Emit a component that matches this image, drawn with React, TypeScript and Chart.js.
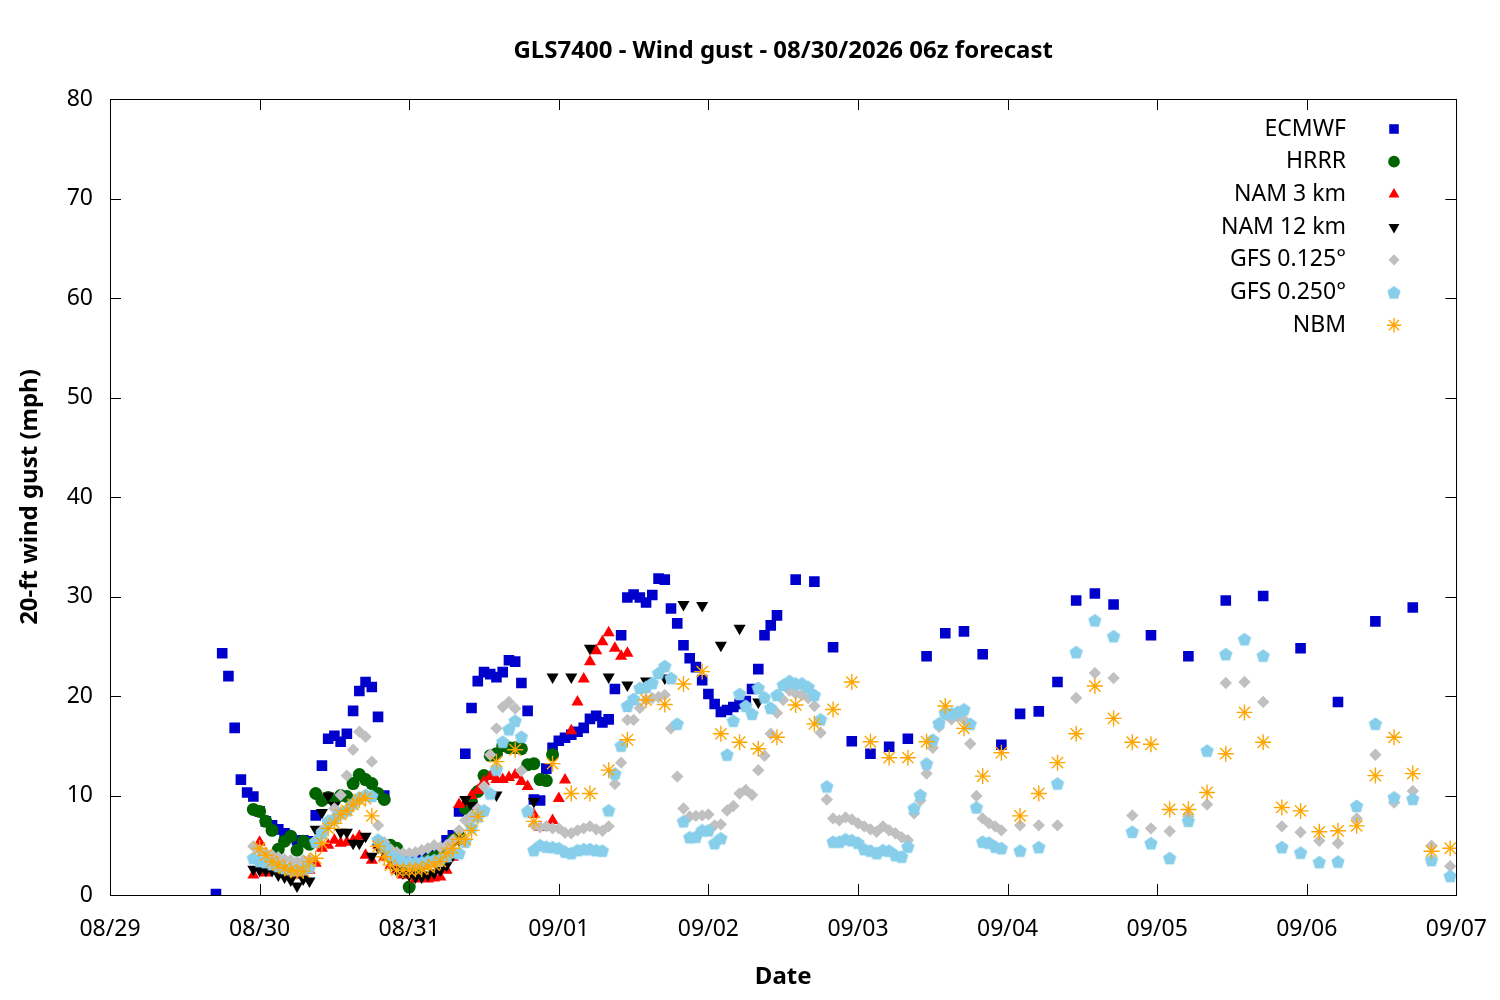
import React, { useEffect, useRef } from 'react';
import { Chart, registerables } from 'chart.js';
import { drawPoint } from 'chart.js/helpers';

Chart.register(...registerables);

const FONT = '"Noto Sans", "Open Sans", sans-serif';
const chartTitle = 'GLS7400 - Wind gust - 08/30/2026 06z forecast';
const xTitle = 'Date';
const yTitle = '20-ft wind gust (mph)';
const dateLabels = ['08/29', '08/30', '08/31', '09/01', '09/02', '09/03', '09/04', '09/05', '09/06', '09/07'];
const seriesNames = ['ECMWF', 'HRRR', 'NAM 3 km', 'NAM 12 km', 'GFS 0.125°', 'GFS 0.250°', 'NBM'];

// valid-time hours since 08/29 00:00, as [first, last, step] segments
function hourSeq(...segs: [number, number, number][]): number[] {
  const out: number[] = [];
  for (const [a, b, s] of segs) for (let h = a; h <= b; h += s) out.push(h);
  return out;
}

const ecmwfHours = hourSeq([17, 107, 1], [110, 161, 3], [167, 209, 6]);
const ecmwfValues = [
  0.1, 24.3, 22.0, 16.8, 11.6, 10.3, 9.9, 8.4, 7.4, 7.0,
  6.6, 6.2, 5.8, 5.5, 5.5, 5.4, 8.0, 13.0, 15.7, 16.0,
  15.4, 16.2, 18.5, 20.5, 21.4, 20.9, 17.9, 10.0, 4.5, 3.8,
  3.5, 3.3, 3.3, 3.6, 4.0, 4.2, 4.5, 5.5, 6.0, 8.4,
  14.2, 18.8, 21.5, 22.4, 22.2, 21.9, 22.4, 23.6, 23.45, 21.3,
  18.5, 9.6, 9.5, 12.7, 14.8, 15.5, 15.8, 16.1, 16.4, 16.8,
  17.7, 18.0, 17.35, 17.65, 20.7, 26.1, 29.9, 30.2, 29.9, 29.4,
  30.15, 31.8, 31.7, 28.8, 27.3, 25.1, 23.8, 22.9, 21.6, 20.2,
  19.2, 18.4, 18.6, 18.9, 19.2, 19.5, 20.7, 22.7, 26.1, 27.1,
  28.1,
  31.7, 31.5, 24.9, 15.45, 14.2, 14.9, 15.7, 24.0, 26.3, 26.5,
  24.2, 15.1, 18.2, 18.45, 21.4, 29.6, 30.3, 29.2,
  26.1, 24.0, 29.6, 30.05, 24.8, 19.4, 27.5, 28.9,
];

const hrrrHours = hourSeq([23, 71, 1]);
const hrrrValues = [
  8.6, 8.4, 7.4, 6.5, 4.6, 5.4, 5.9, 4.5, 5.4, 5.1,
  10.2, 9.5, 9.8, 9.5, 10.0, 9.9, 11.2, 12.1, 11.6, 11.2,
  10.2, 9.6, 5.0, 4.7, 3.0, 0.8, 2.5, 3.0, 3.5, 3.8,
  4.0, 4.3, 5.5, 5.9, 8.7, 9.3, 10.4, 12.0, 14.0, 14.2,
  15.0, 14.8, 14.8, 14.7, 13.1, 13.2, 11.6, 11.5, 14.1,
];

const nam3Hours = hourSeq([23, 83, 1]);
const nam3Values = [
  2.0, 5.3, 2.2, 2.8, 2.5, 2.3, 2.3, 2.0, 2.0, 2.5,
  3.2, 4.7, 5.0, 5.5, 5.2, 5.3, 5.5, 5.9, 4.0, 3.5,
  5.0, 3.8, 3.0, 2.5, 2.0, 2.0, 1.6, 1.8, 1.6, 1.7,
  1.8, 2.5, 3.8, 9.1, 9.3, 10.0, 10.5, 11.4, 11.9, 11.6,
  11.6, 11.8, 12.05, 11.4, 10.9, 8.1, 6.8, 6.8, 7.5, 9.7,
  11.55, 16.5, 19.4, 21.7, 23.45, 24.55, 25.45, 26.35, 24.8, 24.0, 24.3,
];

const nam12Hours = hourSeq([23, 58, 1], [62, 62, 1], [68, 68, 1], [71, 104, 3]);
const nam12Values = [
  2.6, 2.5, 2.5, 2.45, 2.0, 1.8, 1.5, 0.9, 1.6, 1.4,
  6.6, 8.3, 9.95, 9.0, 6.3, 6.3, 5.2, 5.2, 5.9, 3.9,
  4.8, 4.2, 3.5, 2.5, 2.2, 2.0, 1.8, 1.8, 2.0, 2.2,
  2.5, 3.0, 4.0, 5.5, 9.6, 9.0,
  10.05, 9.4,
  21.9, 21.9, 24.8, 21.9, 21.1, 21.5, 21.8, 29.2, 29.1, 25.1, 26.8, 19.4,
];

const gfs125Hours = hourSeq([23, 143, 1], [146, 215, 3]);
const gfs125Values = [
  4.9, 4.5, 4.2, 4.0, 3.8, 3.6, 3.5, 3.3, 3.5, 3.6,
  5.5, 6.5, 7.5, 8.7, 10.05, 12.0, 14.6, 16.4, 15.9, 13.4,
  7.0, 5.3, 4.6, 4.3, 4.2, 4.2, 4.3, 4.5, 4.7, 5.0,
  4.8, 5.0, 5.5, 6.5, 7.5, 8.0, 8.7, 10.9, 14.1, 16.75,
  18.9, 19.4, 18.75, 12.5, 8.5, 7.0, 6.8, 6.9, 6.7, 6.7,
  6.25, 6.2, 6.5, 6.7, 6.9, 6.6, 6.45, 6.9, 11.15, 13.3,
  17.6, 17.6, 18.8, 19.6, 19.8, 19.9, 20.1, 16.75, 11.9, 8.7,
  7.9, 7.95, 8.0, 8.1, 7.0, 7.1, 8.5, 8.95, 10.2, 10.55,
  10.05, 12.55, 14.0, 16.2, 18.3, 19.6, 20.55, 20.25, 20.1, 19.8,
  19.0, 16.3, 9.6, 7.7, 7.5, 7.8, 7.6, 7.2, 6.9, 6.6,
  6.35, 6.9, 6.5, 6.2, 5.8, 5.5, 8.2, 9.5, 12.2, 14.8,
  16.9, 18.1, 17.65, 17.9, 17.6, 15.2, 9.95, 7.7, 7.2, 6.9,
  6.5,
  7.0, 7.0, 7.0, 19.8, 22.3, 21.8, 8.0, 6.7, 6.4, 7.9,
  9.1, 21.3, 21.4, 19.4, 6.9, 6.3, 5.45, 5.2, 7.7, 14.1,
  9.3, 10.45, 4.95, 2.9,
];

const gfs250Hours = hourSeq([23, 143, 1], [146, 215, 3]);
const gfs250Values = [
  3.7, 3.4, 3.3, 3.1, 2.9, 2.7, 2.6, 2.5, 2.6, 2.8,
  5.35, 6.2, 7.4, 7.7, 8.2, 8.5, 9.2, 9.8, 10.05, 9.95,
  5.55, 4.85, 4.0, 3.6, 3.4, 3.3, 3.3, 3.3, 3.4, 3.5,
  3.6, 3.9, 4.3, 4.2, 5.35, 6.8, 7.9, 8.5, 10.2, 12.6,
  15.4, 16.65, 17.5, 15.9, 8.4, 4.5, 5.0, 4.85, 4.8, 4.7,
  4.35, 4.2, 4.5, 4.6, 4.6, 4.5, 4.45, 8.5, 12.2, 15.0,
  19.0, 19.7, 20.8, 20.9, 21.3, 22.3, 23.0, 21.8, 17.2, 7.4,
  5.8, 5.85, 6.5, 6.5, 5.2, 5.7, 14.1, 17.5, 20.2, 19.0,
  18.2, 20.8, 19.85, 18.8, 20.1, 21.1, 21.5, 21.25, 21.25, 20.9,
  20.1, 17.65, 10.9, 5.35, 5.35, 5.6, 5.5, 5.25, 4.6, 4.45,
  4.2, 4.5, 4.45, 4.0, 3.85, 4.85, 8.7, 10.05, 13.2, 15.6,
  17.25, 18.25, 18.25, 18.4, 18.65, 17.2, 8.8, 5.35, 5.25, 4.85,
  4.7,
  4.45, 4.8, 11.2, 24.4, 27.6, 26.0, 6.35, 5.2, 3.7, 7.45,
  14.5, 24.2, 25.7, 24.05, 4.8, 4.25, 3.3, 3.35, 8.95, 17.2,
  9.8, 9.65, 3.5, 1.9,
];

const nbmHours = hourSeq([24, 59, 1], [62, 215, 3]);
const nbmValues = [
  4.7, 4.0, 3.35, 3.0, 2.7, 2.5, 2.35, 2.4, 3.35, 3.7,
  5.2, 6.7, 7.2, 8.1, 8.5, 9.1, 9.55, 9.7, 7.95, 4.9,
  3.85, 3.0, 2.5, 2.5, 2.5, 2.6, 2.6, 2.85, 3.0, 3.35,
  4.2, 4.7, 5.6, 5.6, 6.5, 7.9,
  13.4, 14.6, 7.4, 13.2, 10.2, 10.2, 12.55, 15.6, 19.6, 19.15,
  21.2, 22.45, 16.2, 15.35, 14.7, 15.85, 19.1, 17.2, 18.65, 21.4,
  15.4, 13.8, 13.8, 15.4, 19.0, 16.75, 11.95, 14.3, 7.95, 10.2,
  13.3, 16.2, 21.0, 17.75, 15.35, 15.15, 8.6, 8.6, 10.3, 14.2,
  18.35, 15.35, 8.8, 8.45, 6.35, 6.45, 6.95, 12.0, 15.85, 12.2,
  4.4, 4.7,
];

const seriesHours = [ecmwfHours, hrrrHours, nam3Hours, nam12Hours, gfs125Hours, gfs250Hours, nbmHours];
const seriesValues = [ecmwfValues, hrrrValues, nam3Values, nam12Values, gfs125Values, gfs250Values, nbmValues];
const seriesColors = ['#0000cc', '#006400', '#ff0000', '#000000', '#c0c0c0', '#87ceeb', '#ffa500'];

function makePentagon(color: string, r: number): HTMLCanvasElement {
  const c = document.createElement('canvas');
  const s = Math.ceil(r * 2) + 2;
  c.width = s;
  c.height = s;
  const ctx = c.getContext('2d')!;
  ctx.fillStyle = color;
  ctx.beginPath();
  for (let i = 0; i < 5; i++) {
    const a = -Math.PI / 2 + (i * 2 * Math.PI) / 5;
    const x = s / 2 + r * Math.cos(a);
    const y = s / 2 + 0.5 + r * Math.sin(a);
    if (i === 0) ctx.moveTo(x, y);
    else ctx.lineTo(x, y);
  }
  ctx.closePath();
  ctx.fill();
  return c;
}

export default function App() {
  const ref = useRef<HTMLCanvasElement | null>(null);

  useEffect(() => {
    document.body.style.margin = '0';
    const canvas = ref.current;
    if (!canvas) return;

    const markers: any[] = [
      { pointStyle: 'rect', radius: 7.5, rotation: 0, borderWidth: 0 },
      { pointStyle: 'circle', radius: 6.5, rotation: 0, borderWidth: 0 },
      { pointStyle: 'triangle', radius: 7, rotation: 0, borderWidth: 0 },
      { pointStyle: 'triangle', radius: 7, rotation: 180, borderWidth: 0 },
      { pointStyle: 'rectRot', radius: 6.2, rotation: 0, borderWidth: 0 },
      { pointStyle: makePentagon(seriesColors[5], 7), radius: 7, rotation: 0, borderWidth: 0 },
      { pointStyle: 'star', radius: 8, rotation: 0, borderWidth: 1.4 },
    ];

    const datasets = seriesNames.map((name, i) => ({
      label: name,
      data: seriesHours[i].map((h, k) => ({ x: h, y: seriesValues[i][k] })),
      pointStyle: markers[i].pointStyle,
      pointRadius: markers[i].radius,
      pointRotation: markers[i].rotation,
      pointBorderWidth: markers[i].borderWidth,
      backgroundColor: seriesColors[i],
      borderColor: seriesColors[i],
      showLine: false,
      order: seriesNames.length - i,
    }));

    const decor = {
      id: 'decor',
      afterDraw(chart: any) {
        const { ctx, chartArea: a, scales } = chart;
        ctx.save();
        ctx.strokeStyle = '#000';
        ctx.lineWidth = 1;
        ctx.strokeRect(Math.round(a.left) + 0.5, Math.round(a.top) + 0.5, Math.round(a.right - a.left), Math.round(a.bottom - a.top));
        const tl = 11;
        ctx.beginPath();
        for (let v = 0; v <= 80; v += 10) {
          const y = Math.round(scales.y.getPixelForValue(v)) + 0.5;
          ctx.moveTo(a.left, y); ctx.lineTo(a.left + tl, y);
          ctx.moveTo(a.right, y); ctx.lineTo(a.right - tl, y);
        }
        for (let i = 0; i < dateLabels.length; i++) {
          const x = Math.round(scales.x.getPixelForValue(i * 24)) + 0.5;
          ctx.moveTo(x, a.bottom); ctx.lineTo(x, a.bottom - tl);
          ctx.moveTo(x, a.top); ctx.lineTo(x, a.top + tl);
        }
        ctx.stroke();

        ctx.fillStyle = '#000';
        ctx.textBaseline = 'middle';
        ctx.textAlign = 'center';
        ctx.font = `bold 24px ${FONT}`;
        const cx = (a.left + a.right) / 2;
        ctx.fillText(chartTitle, cx, 51);
        ctx.fillText(xTitle, cx, 977);
        ctx.save();
        ctx.translate(30, (a.top + a.bottom) / 2);
        ctx.rotate(-Math.PI / 2);
        ctx.fillText(yTitle, 0, 0);
        ctx.restore();

        ctx.font = `23px ${FONT}`;
        ctx.textAlign = 'right';
        for (let i = 0; i < seriesNames.length; i++) {
          const y = 129 + i * 32.7;
          ctx.fillStyle = '#000';
          ctx.fillText(seriesNames[i], 1346, y);
          ctx.fillStyle = seriesColors[i];
          ctx.strokeStyle = seriesColors[i];
          ctx.lineWidth = markers[i].borderWidth || 1;
          drawPoint(ctx, {
            pointStyle: markers[i].pointStyle,
            radius: markers[i].radius * 0.9,
            rotation: markers[i].rotation,
            borderWidth: markers[i].borderWidth,
          } as any, 1394, y);
        }
        ctx.restore();
      },
    };

    const chart = new Chart(canvas, {
      type: 'scatter',
      data: { datasets: datasets as any },
      options: {
        responsive: false,
        animation: false,
        devicePixelRatio: 1,
        layout: { padding: { top: 99, right: 36, left: 0, bottom: 0 } },
        plugins: {
          legend: { display: false },
          tooltip: { enabled: false },
          title: { display: false },
        },
        scales: {
          x: {
            type: 'linear',
            min: 0,
            max: 216,
            afterFit: (s: any) => { s.height = 105; },
            grid: { display: false },
            border: { display: false },
            ticks: {
              stepSize: 24,
              autoSkip: false,
              maxRotation: 0,
              padding: 13,
              color: '#000',
              font: { family: FONT, size: 23 },
              callback: (v: any) => dateLabels[Math.round(Number(v) / 24)] ?? '',
            },
          },
          y: {
            min: 0,
            max: 80,
            afterFit: (s: any) => { s.width = 110; },
            grid: { display: false },
            border: { display: false },
            ticks: {
              stepSize: 10,
              padding: 9,
              color: '#000',
              font: { family: FONT, size: 23 },
            },
          },
        },
      },
      plugins: [decor],
    });

    return () => chart.destroy();
  }, []);

  return (
    <div style={{ width: 1500, height: 1000, background: '#fff' }}>
      <canvas ref={ref} width={1500} height={1000} style={{ width: 1500, height: 1000, display: 'block' }} />
    </div>
  );
}
